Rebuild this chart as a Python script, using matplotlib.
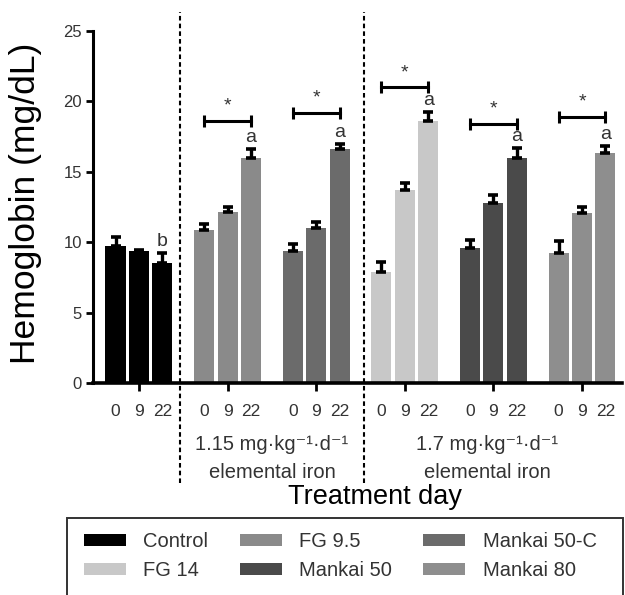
import numpy as np
import matplotlib
matplotlib.use("Agg")
import matplotlib.pyplot as plt
from matplotlib.patches import Rectangle

plt.rcParams['font.family'] = ['Liberation Sans', 'DejaVu Sans']

# data
groups = ['Control', 'FG 9.5', 'Mankai 50-C', 'FG 14', 'Mankai 50', 'Mankai 80']
days = ['0', '9', '22']
colors = ['#000000', '#8a8a8a', '#6b6b6b', '#c8c8c8', '#4a4a4a', '#8e8e8e']

hb_control = [9.7, 9.35, 8.5]
hb_fg95 = [10.85, 12.15, 15.95]
hb_mankai50c = [9.35, 11.0, 16.65]
hb_fg14 = [7.9, 13.7, 18.6]
hb_mankai50 = [9.6, 12.8, 15.95]
hb_mankai80 = [9.2, 12.05, 16.3]

err_control = [0.65, 0.1, 0.75]
err_fg95 = [0.45, 0.35, 0.7]
err_mankai50c = [0.55, 0.45, 0.35]
err_fg14 = [0.7, 0.5, 0.65]
err_mankai50 = [0.55, 0.55, 0.75]
err_mankai80 = [0.85, 0.45, 0.55]

# significance bracket heights (day 0 vs day 22), None = no bracket
bracket_y = [None, 18.6, 19.2, 21.0, 18.4, 18.9]
letters = ['b', 'a', 'a', 'a', 'a', 'a']

means = [hb_control, hb_fg95, hb_mankai50c, hb_fg14, hb_mankai50, hb_mankai80]
errs = [err_control, err_fg95, err_mankai50c, err_fg14, err_mankai50, err_mankai80]

fig = plt.figure(figsize=(6.25, 5.95), dpi=100)
ax = fig.add_axes([0.1488, 0.3563, 0.8462, 0.5916])

step = 0.265
width = 0.226
bar_pos = []
bar_lab = []
handles = []
for i, g in enumerate(groups):
    xs = i + step * (np.arange(3) - 1)
    b = ax.bar(xs, means[i], width, color=colors[i], label=g, zorder=2)
    handles.append(b)
    ax.errorbar(xs, means[i], yerr=[np.zeros(3), errs[i]], fmt='none',
                ecolor='black', elinewidth=2.4, capsize=3.5, capthick=2.6, zorder=3)
    bar_pos += list(xs)
    bar_lab += days
    top = means[i][2] + errs[i][2]
    ax.text(xs[2], top + 0.2, letters[i], ha='center', va='bottom',
            fontsize=14, color='#333333')
    if bracket_y[i] is not None:
        ax.plot([xs[0], xs[2]], [bracket_y[i]] * 2, color='black', lw=2.2,
                marker='|', markersize=8, markeredgewidth=2.2, zorder=3)
        ax.text(i, bracket_y[i] + 0.45, '*', ha='center', va='bottom',
                fontsize=14, color='#333333')

ax.set_xlim(-0.519, 5.45)
ax.set_ylim(0, 25)
ax.set_yticks(np.arange(0, 26, 5))
ax.xaxis.remove_overlapping_locs = False
ax.set_xticks(range(len(groups)))
ax.set_xticklabels([])
ax.set_xticks(bar_pos, minor=True)
ax.set_xticklabels(bar_lab, minor=True)
ax.tick_params(axis='x', which='major', direction='out', length=6, width=2)
ax.tick_params(axis='x', which='minor', length=0, pad=15, labelsize=12.5,
               labelcolor='#333333')
ax.tick_params(axis='y', direction='out', length=5, width=2, pad=3,
               labelsize=12, labelcolor='#333333')

for s in ['top', 'right']:
    ax.spines[s].set_visible(False)
ax.spines['left'].set_linewidth(2.2)
ax.spines['bottom'].set_linewidth(2.6)

ax.set_ylabel('Hemoglobin (mg/dL)', fontsize=25.5)
ax.yaxis.set_label_coords(-0.096, 0.51)

# dashed separators between dose blocks
for xsep in [0.463, 2.54]:
    ax.plot([xsep, xsep], [-7.1, 26.35], color='black', lw=1.5,
            linestyle=(0, (2.2, 1.5)), clip_on=False, zorder=4)

# dose labels
dose_txt = ['1.15 mg\u00b7kg\u207b\u00b9\u00b7d\u207b\u00b9\nelemental iron',
            '1.7 mg\u00b7kg\u207b\u00b9\u00b7d\u207b\u00b9\nelemental iron']
for xc, t in zip([1.5, 3.93], dose_txt):
    ax.text(xc, -5.35, t, ha='center', va='center', fontsize=14.5,
            color='#333333', linespacing=1.6)

fig.text(0.6, 1 - 497 / 595, 'Treatment day', ha='center', va='center',
         fontsize=19.5)

# legend with its frame running off the bottom
fig.patches.append(Rectangle((67 / 625, -0.05), 556 / 625, 1 - 518 / 595 + 0.05,
                             transform=fig.transFigure, fill=False,
                             edgecolor='#333333', lw=1.4))
order = [0, 3, 1, 4, 2, 5]
leg = fig.legend([handles[k] for k in order], [groups[k] for k in order],
                 ncol=3, loc='upper left', bbox_to_anchor=(84 / 625, 1 - 532 / 595),
                 frameon=False, fontsize=14.5, handlelength=2.1, handleheight=0.6,
                 handletextpad=0.85, columnspacing=1.55, labelspacing=0.5,
                 borderaxespad=0, borderpad=0)
for t in leg.get_texts():
    t.set_color('#333333')

fig.savefig('out.png', dpi=100)
